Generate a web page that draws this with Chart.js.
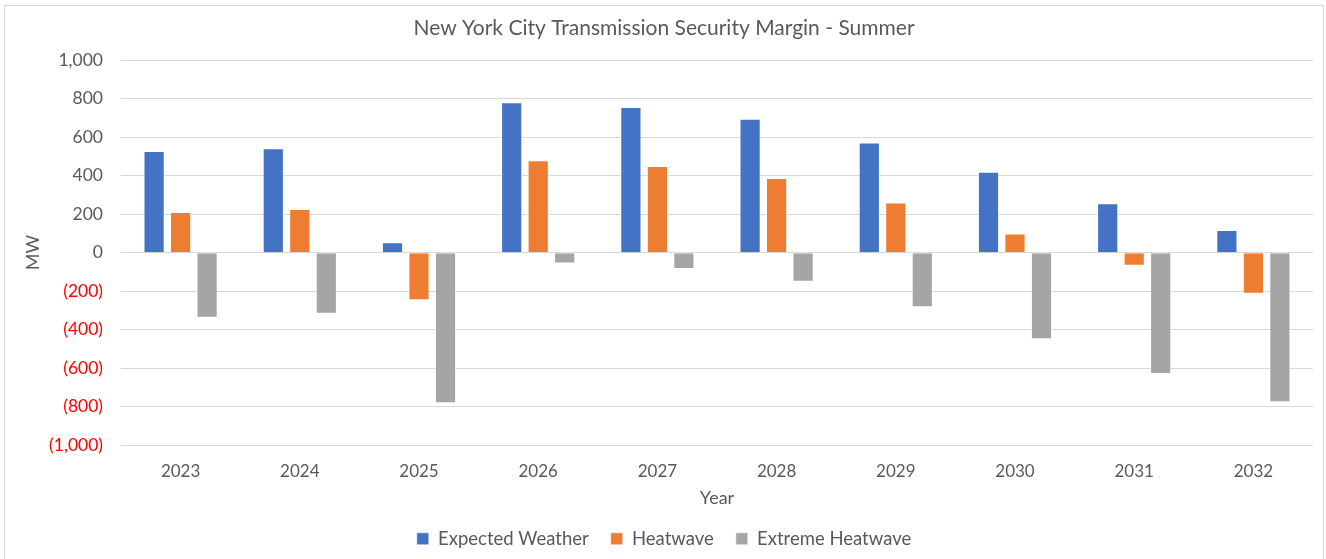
<!DOCTYPE html>
<html>
<head>
<meta charset="utf-8">
<script src="https://cdn.jsdelivr.net/npm/chart.js@4/dist/chart.umd.min.js"></script>
<style>
  html, body { margin: 0; padding: 0; background: #fff; }
  #frame {
    position: absolute; left: 4px; top: 5px;
    width: 1320px; height: 560px;
    border: 1px solid #d9d9d9; box-sizing: border-box;
  }
  canvas { display: block; }
</style>
</head>
<body>
<div id="frame"><canvas id="chart"></canvas></div>
<script>
// ─── DATA ─────────────────────────────────────────────────────
const years = ['2023', '2024', '2025', '2026', '2027', '2028', '2029', '2030', '2031', '2032'];
const expectedWeather = [528, 542, 54, 781, 757, 696, 573, 421, 257, 118];
const heatwave        = [211, 227, -247, 480, 450, 388, 260, 99, -68, -213];
const extremeHeatwave = [-338, -318, -782, -57, -85, -151, -284, -450, -630, -777];

const FONT = 'Lato, "Open Sans", sans-serif';
const GREY_TEXT = '#595959';

function fmt(v) {
    const s = Math.abs(v).toLocaleString('en-US');
    return v < 0 ? '(' + s + ')' : s;
}

function series(label, data, color) {
    return {
        label, data,
        backgroundColor: color,
        borderColor: 'rgba(255,255,255,0.55)',
        borderWidth: 1,
        categoryPercentage: 0.667,
        barPercentage: 0.8
    };
}

new Chart(document.getElementById('chart'), {
    type: 'bar',
    data: {
        labels: years,
        datasets: [
            series('Expected Weather', expectedWeather, '#4472C4'),
            series('Heatwave',         heatwave,        '#ED7D31'),
            series('Extreme Heatwave', extremeHeatwave, '#A5A5A5')
        ]
    },
    options: {
        responsive: true,
        maintainAspectRatio: false,
        animation: false,
        layout: { padding: { left: 10, right: 10, top: 6, bottom: 6 } },
        plugins: {
            title: {
                display: true,
                text: 'New York City Transmission Security Margin - Summer',
                color: GREY_TEXT,
                font: { family: FONT, size: 21, weight: 'normal' },
                padding: { top: 4, bottom: 19 }
            },
            legend: {
                position: 'bottom',
                labels: {
                    color: GREY_TEXT,
                    font: { family: FONT, size: 18.5 },
                    boxWidth: 12, boxHeight: 12,
                    padding: 22
                }
            },
            tooltip: { enabled: false }
        },
        scales: {
            x: {
                grid: { display: false },
                border: { display: false },
                ticks: { color: GREY_TEXT, font: { family: FONT, size: 17 }, padding: 8 },
                title: {
                    display: true, text: 'Year', color: GREY_TEXT,
                    font: { family: FONT, size: 18, lineHeight: 1 }, padding: { top: 0, bottom: 0 }
                }
            },
            y: {
                min: -1000, max: 1000,
                afterFit: scale => { scale.width = 106; },
                grid: { color: '#d9d9d9', lineWidth: 1, drawTicks: false },
                border: { display: false },
                ticks: {
                    stepSize: 200,
                    padding: 18,
                    font: { family: FONT, size: 17.5 },
                    color: ctx => ctx.tick.value < 0 ? '#ff0000' : GREY_TEXT,
                    callback: v => fmt(v)
                },
                title: {
                    display: true, text: 'MW', color: GREY_TEXT,
                    font: { family: FONT, size: 18, lineHeight: 1 }, padding: { top: 9, bottom: 0 }
                }
            }
        }
    }
});
</script>
</body>
</html>
